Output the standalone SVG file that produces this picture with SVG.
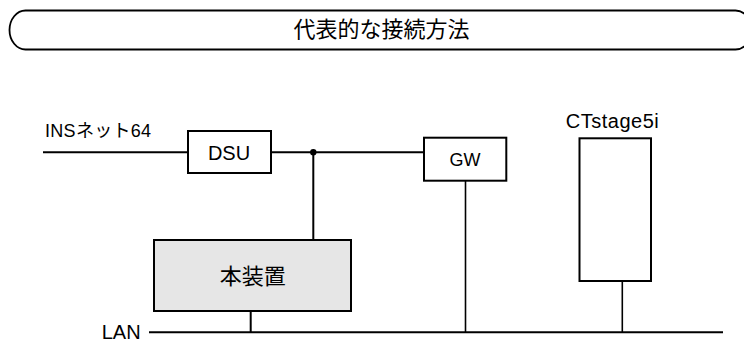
<svg xmlns="http://www.w3.org/2000/svg" width="744" height="343" viewBox="0 0 744 343">
<style>
.box{fill:#fff;stroke:#000;stroke-width:2}
.gray{fill:#e6e6e6;stroke:#000;stroke-width:2}
.ln{stroke:#000;stroke-width:2;fill:none}
.vl{stroke:#000;stroke-width:1.6;fill:none}
.t{font-family:"Liberation Sans","Noto Sans CJK JP",sans-serif;fill:#000}
.j{font-family:"Noto Sans CJK JP","Liberation Sans",sans-serif;fill:#000}
</style>
<rect width="744" height="343" fill="#fff"/>
<g id="title">
<rect x="9.5" y="10.5" width="742" height="39" rx="16" ry="19.5" fill="#fff" stroke="#000" stroke-width="1.8"/>
<text class="j" x="381.5" y="37" font-size="22" text-anchor="middle">代表的な接続方法</text>
</g>
<g id="connectors">
<line class="ln" x1="43" y1="152.3" x2="188" y2="152.3"/>
<line class="ln" x1="271" y1="152.3" x2="424" y2="152.3"/>
<circle cx="313.3" cy="152.3" r="3.2" fill="#000"/>
<line class="ln" x1="313.3" y1="152.3" x2="313.3" y2="240"/>
<line class="ln" x1="250.7" y1="311" x2="250.7" y2="332.3"/>
<line class="vl" x1="465.5" y1="180.7" x2="465.5" y2="332.3"/>
<line class="vl" x1="622.3" y1="281" x2="622.3" y2="332.3"/>
<line class="ln" x1="149" y1="332.3" x2="723" y2="332.3"/>
</g>
<g id="ins">
<text class="t" x="45" y="136.7" font-size="18" letter-spacing="0.3">INSネット64</text>
</g>
<g id="dsu">
<rect class="box" x="188" y="131" width="83" height="42"/>
<text class="t" x="229" y="160" font-size="20" text-anchor="middle">DSU</text>
</g>
<g id="gw">
<rect class="box" x="424" y="137.7" width="82.3" height="43"/>
<text class="t" x="465" y="166" font-size="18" text-anchor="middle">GW</text>
</g>
<g id="ctstage">
<rect class="box" x="579.5" y="138.3" width="71.5" height="142.7"/>
<text class="t" x="612.5" y="128.3" font-size="20" letter-spacing="0.5" text-anchor="middle">CTstage5i</text>
</g>
<g id="device">
<rect class="gray" x="154" y="240" width="197" height="71"/>
<text class="j" x="252.7" y="283.5" font-size="22" text-anchor="middle">本装置</text>
</g>
<g id="lan">
<text class="t" x="101.7" y="339" font-size="20">LAN</text>
</g>
</svg>
